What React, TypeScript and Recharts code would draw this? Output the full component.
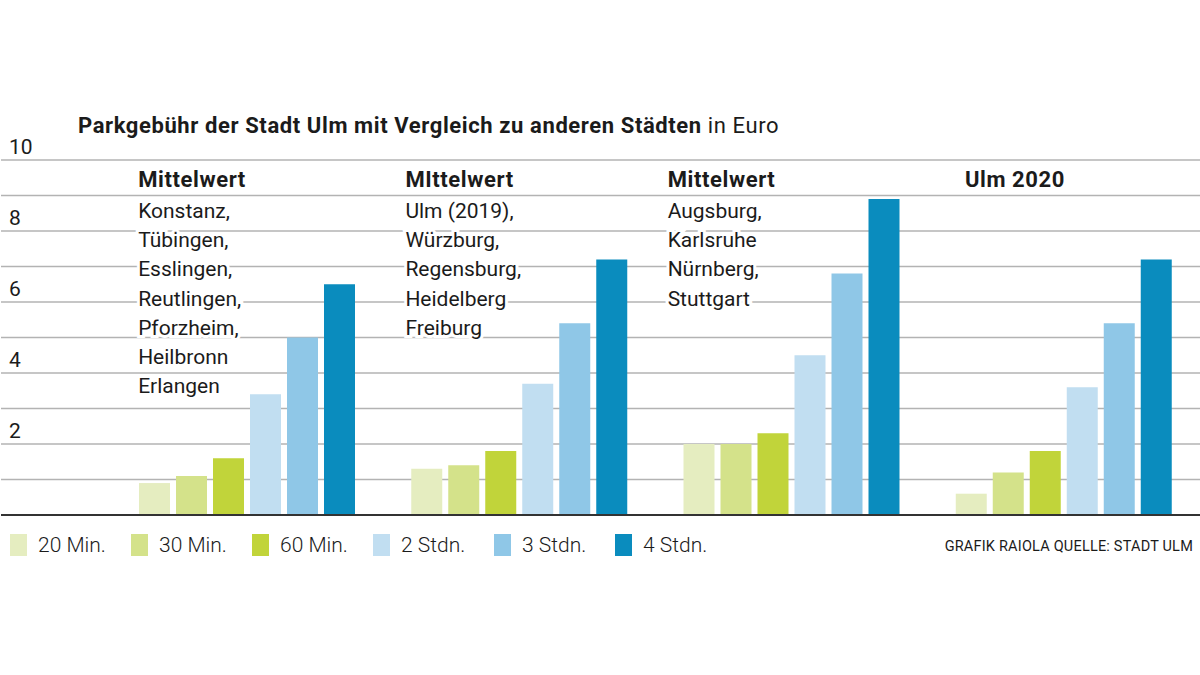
import { BarChart, Bar, XAxis, YAxis, CartesianGrid, ReferenceLine } from "recharts"

const groupIds = ["g1", "g2", "g3", "g4"]
const groupTitles = ["Mittelwert", "MIttelwert", "Mittelwert", "Ulm 2020"]
const groupCities = [
  ["Konstanz,", "Tübingen,", "Esslingen,", "Reutlingen,", "Pforzheim,", "Heilbronn", "Erlangen"],
  ["Ulm (2019),", "Würzburg,", "Regensburg,", "Heidelberg", "Freiburg"],
  ["Augsburg,", "Karlsruhe", "Nürnberg,", "Stuttgart"],
  [],
]

const seriesNames = ["20 Min.", "30 Min.", "60 Min.", "2 Stdn.", "3 Stdn.", "4 Stdn."]
const min20 = [0.9, 1.3, 2.0, 0.6]
const min30 = [1.1, 1.4, 2.0, 1.2]
const min60 = [1.6, 1.8, 2.3, 1.8]
const std2 = [3.4, 3.7, 4.5, 3.6]
const std3 = [5.0, 5.4, 6.8, 5.4]
const std4 = [6.5, 7.2, 8.9, 7.2]

const yTicks = [0, 1, 2, 3, 4, 5, 6, 7, 8, 9, 10]
const yLabels = [2, 4, 6, 8, 10]

const colors = ["#e5edc0", "#d4e28a", "#c1d43a", "#c1def1", "#8fc7e7", "#0a8cbe"]
const seriesKeys = ["k0", "k1", "k2", "k3", "k4", "k5"]
const seriesValues = [min20, min30, min60, std2, std3, std4]

const data = groupIds.map((id, i) => {
  const row: Record<string, string | number> = { id }
  seriesKeys.forEach((k, s) => {
    row[k] = seriesValues[s][i]
  })
  return row
})

// label offset from band centre (text is left aligned)
const labelShift = [-109, -114, -124, -99]
const font = "Roboto, 'Noto Sans', sans-serif"
const ink = "#1b1b1b"

const renderGroupTick = (props: any) => {
  const { x, y, index } = props
  const lx = x + labelShift[index]
  return (
    <g key={`gt-${index}`}>
      <text
        x={lx}
        y={y + 27}
        fontFamily={font}
        fontSize={22}
        fontWeight={700}
        letterSpacing={0.6}
        fill={ink}
        stroke="#fff"
        strokeWidth={6}
        paintOrder="stroke"
      >
        {groupTitles[index]}
      </text>
      {groupCities[index].map((c, j) => (
        <text
          key={c}
          x={lx}
          y={y + 58 + j * 29.2}
          fontFamily={font}
          fontSize={21}
          fill={ink}
          stroke="#fff"
          strokeWidth={6}
          paintOrder="stroke"
        >
          {c}
        </text>
      ))}
    </g>
  )
}

const renderValueTick = (props: any) => {
  const { y, payload, index } = props
  if (!yLabels.includes(payload.value)) return <g key={`vt-${index}`} />
  return (
    <text key={`vt-${index}`} x={9} y={y - 6} fontFamily={font} fontSize={21} fill={ink}>
      {payload.value}
    </text>
  )
}

export default function App() {
  return (
    <div
      style={{
        position: "absolute",
        left: 0,
        top: 0,
        width: 1200,
        height: 675,
        background: "#fff",
        fontFamily: font,
        color: ink,
      }}
    >
      <div
        style={{
          position: "absolute",
          left: 78,
          top: 113,
          fontSize: 22,
          letterSpacing: 0.6,
          whiteSpace: "nowrap",
        }}
      >
        <span style={{ fontWeight: 700 }}>Parkgebühr der Stadt Ulm mit Vergleich zu anderen Städten</span>
        <span> in Euro</span>
      </div>

      <BarChart
        width={1200}
        height={675}
        data={data}
        margin={{ top: 159, right: 0, bottom: 160, left: 0 }}
        barCategoryGap={28}
        barGap={6}
      >
        <CartesianGrid horizontal vertical={false} stroke="#b3b3b3" strokeWidth={1.5} />
        <XAxis
          dataKey="id"
          orientation="top"
          height={1}
          padding={{ left: 110, right: 0 }}
          axisLine={false}
          tickLine={false}
          tickSize={0}
          tickMargin={0}
          interval={0}
          tick={renderGroupTick}
        />
        <YAxis
          width={1}
          domain={[0, 10]}
          ticks={yTicks}
          axisLine={false}
          tickLine={false}
          tick={renderValueTick}
          interval={0}
        />
        {seriesKeys.map((k, s) => (
          <Bar key={k} dataKey={k} name={seriesNames[s]} fill={colors[s]} isAnimationActive={false} />
        ))}
        <ReferenceLine y={0} stroke="#333" strokeWidth={2} />
      </BarChart>

      <div style={{ position: "absolute", left: 10, top: 533, display: "flex", fontSize: 21 }}>
        {seriesNames.map((n, s) => (
          <div key={n} style={{ display: "flex", alignItems: "center", width: 121 }}>
            <span style={{ width: 17, height: 22, background: colors[s], marginRight: 11 }} />
            <span style={{ fontWeight: 300 }}>{n}</span>
          </div>
        ))}
      </div>
      <div style={{ position: "absolute", right: 7, top: 538, fontSize: 14.5, letterSpacing: 0.2 }}>
        GRAFIK RAIOLA QUELLE: STADT ULM
      </div>
    </div>
  )
}
